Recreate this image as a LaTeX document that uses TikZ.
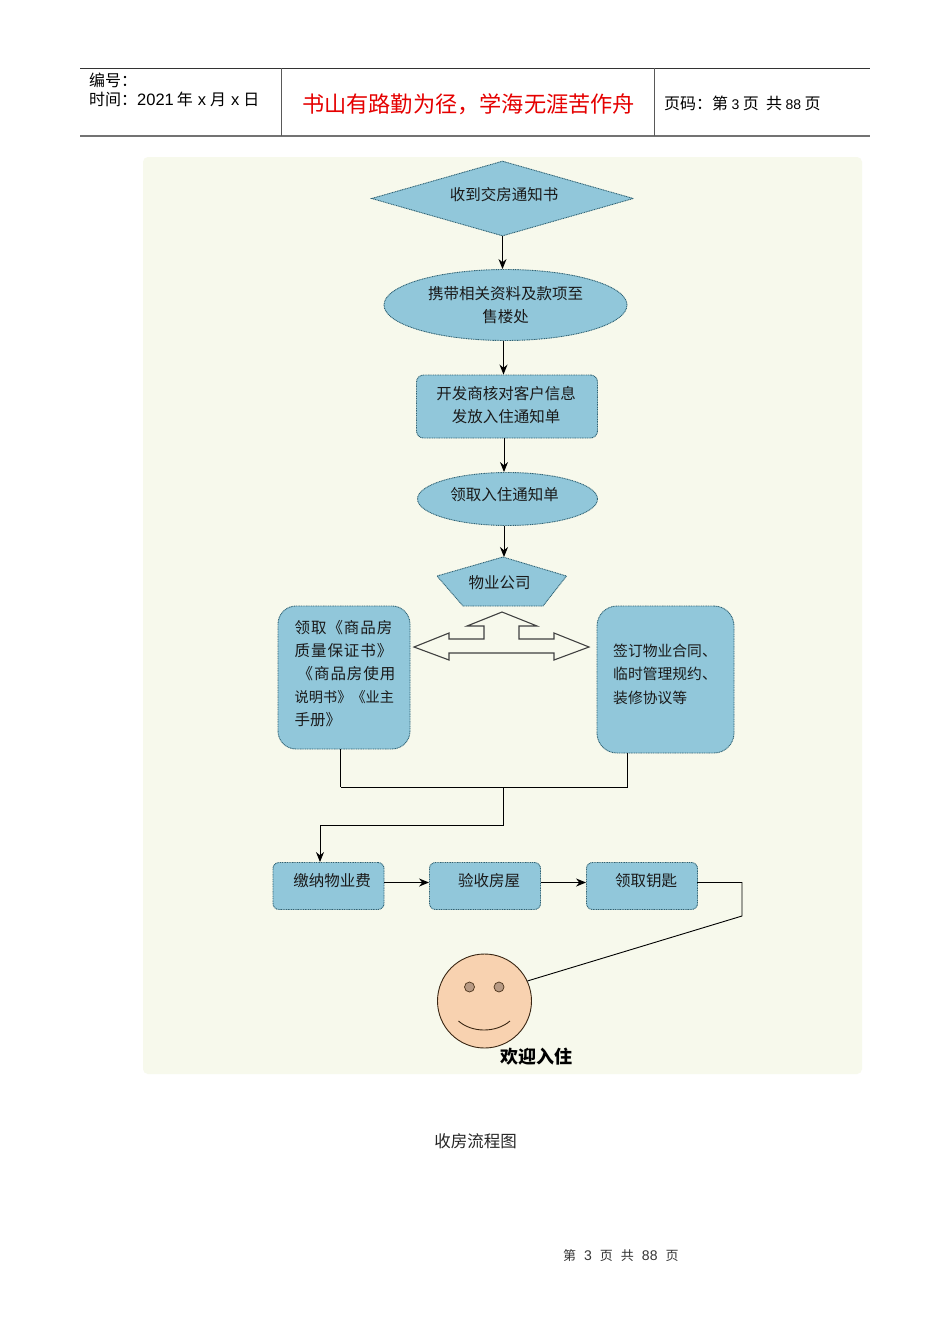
\documentclass[tikz,border=0pt]{standalone}
\usepackage{fontspec}
\setmainfont{Liberation Sans}
\newfontfamily\cjk{Noto Sans CJK SC}
\newfontfamily\cjkwide[LetterSpace=6]{Noto Sans CJK SC}
\usetikzlibrary{shapes.geometric,arrows.meta,calc}
\definecolor{boxfill}{HTML}{91C7DA}
\definecolor{boxedge}{HTML}{2F6375}
\definecolor{bgpanel}{HTML}{F7F9EC}
\definecolor{facefill}{HTML}{F8D2B0}
\definecolor{eyefill}{HTML}{B89A84}
\definecolor{inkdark}{HTML}{1A1A1A}
\tikzset{
  flowshape/.style={draw=boxedge,fill=boxfill,line width=0.9pt,dash pattern=on 1pt off 0.7pt,inner sep=0pt},
  roundbox/.style={flowshape,rectangle,rounded corners=#1},
  ovalbox/.style={flowshape,ellipse},
  flowtext/.style={font=\fontsize{15.5}{23}\cjk,text=inkdark,align=center,inner sep=0pt},
  flowleft/.style={flowtext,align=left,anchor=north west},
  conn/.style={draw=black,line width=0.9pt},
  arr/.style={conn,line width=1pt,-{Stealth[length=10pt,width=8pt]}},
  rule/.style={draw=#1,line width=0.8pt},
  hdr/.style={font=\fontsize{16}{19}\cjk,inner sep=0pt,anchor=west,text=black}
}
\newcommand{\lat}[1]{{\rmfamily\fontsize{16.5}{19}\selectfont #1}}
\newcommand{\nar}[1]{{\rmfamily\fontsize{14}{16}\selectfont #1}}
\begin{document}
\begin{tikzpicture}[x=1pt,y=-1pt]
\useasboundingbox (0,0) rectangle (950,1344);
\fill[white] (0,0) rectangle (950,1344);
% header
\coordinate (hl) at (80,68); \coordinate (hr) at (870,68);
\coordinate (bl) at (80,136); \coordinate (br) at (870,136);
\draw[rule=black!80] (hl) -- (hr);
\draw[draw=black!55,line width=1.3pt] (bl) -- (br);
\coordinate (v1t) at (281,68); \coordinate (v1b) at (281,136);
\coordinate (v2t) at (654.5,68); \coordinate (v2b) at (654.5,136);
\draw[draw=black!65,line width=0.7pt] (v1t) -- (v1b);
\draw[draw=black!65,line width=0.7pt] (v2t) -- (v2b);
\node[hdr] (h1) at (89,80) {编号：};
\node[hdr] (h2) at (89,99) {时间：\lat{2021}\hspace{3pt}年\hspace{5pt}\lat{x}\hspace{4pt}月\hspace{5pt}\lat{x}\hspace{4pt}日};
\node[font=\fontsize{22.2}{24}\cjk,text=red!90!black,inner sep=0pt] (h3) at (468.5,104) {书山有路勤为径，学海无涯苦作舟};
\node[hdr] (h4) at (664,103) {页码：第\hspace{3.5pt}\nar{3}\hspace{3.5pt}页\ \ 共\hspace{3.5pt}\nar{88}\hspace{3.5pt}页};
% panel
\fill[bgpanel,rounded corners=5pt] (143,157) rectangle (862,1074);
% flow shapes
\node[flowshape,diamond,minimum width=262pt,minimum height=75pt,aspect=3.5] (d1) at (502.5,198.5) {};
\node[flowtext] at (504,194.5) {收到交房通知书};
\node[ovalbox,minimum width=243pt,minimum height=71pt] (e1) at (505.5,305) {};
\node[flowtext] (t1) at (505.5,305) {携带相关资料及款项至\\售楼处};
\node[roundbox=7pt,minimum width=181pt,minimum height=63pt] (r1) at (507,406.5) {};
\node[flowtext] (t2) at (506,405) {开发商核对客户信息\\发放入住通知单};
\node[ovalbox,minimum width=180pt,minimum height=53pt] (e2) at (507.5,499) {};
\node[flowtext] (t3) at (504.5,495) {领取入住通知单};
% pentagon
\coordinate (p1) at (503,557); \coordinate (p2) at (566.5,576); \coordinate (p3) at (543,606);
\coordinate (p4) at (463,606); \coordinate (p5) at (437,576);
\draw[flowshape] (p1) -- (p2) -- (p3) -- (p4) -- (p5) -- cycle;
\node[flowtext] (t4) at (499.5,583) {物业公司};
% side boxes
\node[roundbox=18pt,minimum width=132pt,minimum height=143pt] (l1) at (344,677.5) {};
\node[flowleft] (t5) at (294.5,620.5) {{\cjkwide 领取《商品房}\\{\cjkwide 质量保证书》}\\{\cjkwide \hspace{3pt}《商品房使用}\\{\fontsize{14.2}{23}\selectfont 说明书》《业主}\\手册》};
\node[roundbox=20pt,minimum width=137pt,minimum height=147pt] (r2) at (665.5,679.5) {};
\node[flowleft,font=\fontsize{14.8}{23.5}\cjk] (t6) at (613,643.5) {签订物业合同、\\临时管理规约、\\装修协议等};
% hollow triple arrow
\draw[draw=black!75,line width=1.1pt,fill=bgpanel]
 (414,647) -- (449,633) -- (449,639) -- (484,639) -- (484,626) -- (467,626) -- (502,612)
 -- (537,626) -- (519,626) -- (519,639) -- (554,639) -- (554,633) -- (589,647)
 -- (554,660) -- (554,653) -- (449,653) -- (449,660) -- cycle;
% bottom row
\node[roundbox=6pt,minimum width=111pt,minimum height=47pt] (b1) at (328.5,886) {};
\node[flowtext] at (332,881) {缴纳物业费};
\node[roundbox=6pt,minimum width=111pt,minimum height=47pt] (b2) at (485,886) {};
\node[flowtext] at (489,881) {验收房屋};
\node[roundbox=6pt,minimum width=111pt,minimum height=47pt] (b3) at (642,886) {};
\node[flowtext] at (646,881) {领取钥匙};
% face
\node[circle,draw=black!70!brown,line width=0.9pt,fill=facefill,minimum size=94pt,inner sep=0pt] (face) at (484.5,1001) {};
\node[circle,draw=black!60!brown,line width=0.7pt,fill=eyefill,minimum size=10pt,inner sep=0pt] (eyeL) at (469.5,987) {};
\node[circle,draw=black!60!brown,line width=0.7pt,fill=eyefill,minimum size=10pt,inner sep=0pt] (eyeR) at (499,987) {};
\coordinate (smL) at (458.5,1021); \coordinate (smR) at (510,1021);
\draw[draw=black!70!brown,line width=0.9pt] (smL) .. controls (472,1033) and (496,1033) .. (smR);
\node[font=\fontsize{18}{20}\cjk\bfseries,inner sep=0pt] (welcome) at (536,1057) {欢迎入住};
% connectors
\draw[arr] (d1.south) -- (d1.south |- e1.north);
\draw[arr] ([xshift=-2pt]e1.south) -- ([xshift=-2pt]e1.south |- r1.north);
\draw[arr] ([xshift=-3pt]r1.south) -- ([xshift=-3pt]r1.south |- e2.north);
\draw[arr] ([xshift=-3.5pt]e2.south) -- ([xshift=-3.5pt]e2.south |- p1);
\coordinate (jn) at (503,787);
\coordinate (jd) at (503,825);
\coordinate (ll) at (340.5,787);
\coordinate (rl) at (627,787);
\coordinate (dl) at (320,825);
\draw[conn,line width=1.5pt] (l1.south -| ll) -- (ll);
\draw[conn] (ll) -- (rl) -- (r2.south -| rl);
\draw[conn] (jn) -- (jd) -- (dl);
\draw[arr] (dl) -- (dl |- b1.north);
\draw[arr] (b1.east) ++(0,-3.5) -- ([yshift=3.5pt]b2.west);
\draw[arr] (b2.east) ++(0,-3.5) -- ([yshift=3.5pt]b3.west);
\coordinate (k0) at (697,882.5);
\coordinate (k1) at (742,882.5);
\coordinate (k2) at (742,916);
\draw[conn] (k0) -- (k1) -- (k2) -- (face.25);
% caption and footer
\node[font=\fontsize{16.5}{18}\cjk,text=black!85,inner sep=0pt] (cap) at (475.5,1141) {收房流程图};
\node[font=\fontsize{13}{15}\cjk,text=black!80,inner sep=0pt,anchor=west] (foot) at (563,1256) {第\hspace{8pt}\nar{3}\hspace{8pt}页\hspace{8pt}共\hspace{8pt}\nar{88}\hspace{8pt}页};
\end{tikzpicture}
\end{document}
